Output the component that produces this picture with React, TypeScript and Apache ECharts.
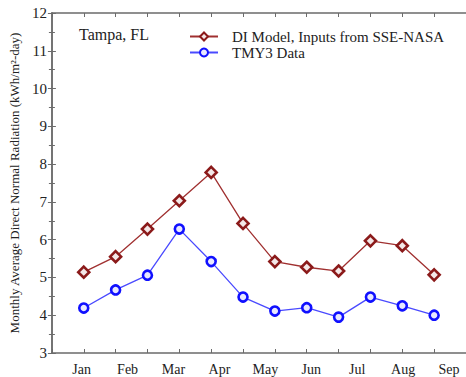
import React, { useEffect, useRef } from "react";
import * as echarts from "echarts";

const monthLabels = ["Jan", "Feb", "Mar", "Apr", "May", "Jun", "Jul", "Aug", "Sep"];
const pointIndex = [1, 2, 3, 4, 5, 6, 7, 8, 9, 10, 11, 12];
const diModel = [5.14, 5.55, 6.28, 7.03, 7.78, 6.43, 5.42, 5.27, 5.17, 5.97, 5.84, 5.07];
const tmy3 = [4.19, 4.67, 5.06, 6.28, 5.42, 4.48, 4.11, 4.2, 3.95, 4.48, 4.25, 4.0];

const FONT = "Liberation Serif";
const AXIS = "#6b6b6b";
const RED = "#8b1a1a";
const BLUE = "#1010ff";

export default function App() {
  const ref = useRef<HTMLDivElement>(null);
  useEffect(() => {
    document.body.style.margin = "0";
    const chart = echarts.init(ref.current!, null, { renderer: "svg" });
    const gridPos = { left: 49, top: 13, right: -1, bottom: 24 };
    chart.setOption({
      animation: false,
      backgroundColor: "#ffffff",
      title: {
        text: "Tampa, FL",
        left: 74,
        top: 21,
        textStyle: { fontFamily: FONT, fontSize: 16, fontWeight: "normal", color: "#222" },
      },
      legend: {
        left: 184,
        top: 24,
        orient: "vertical",
        itemWidth: 28,
        itemHeight: 10,
        itemGap: 1,
        textStyle: { fontFamily: FONT, fontSize: 15, color: "#222", padding: [0, 0, 0, 9] },
        data: ["DI Model, Inputs from SSE-NASA", "TMY3 Data"],
      },
      grid: [
        { ...gridPos },
        { left: 81.7, right: 17, top: 13, bottom: 24 },
      ],
      xAxis: [
        {
          type: "value",
          gridIndex: 0,
          min: 0,
          max: 13,
          interval: 1,
          position: "bottom",
          axisLine: { lineStyle: { color: AXIS, width: 1.5 } },
          axisTick: { inside: true, length: 4, lineStyle: { color: AXIS } },
          axisLabel: { show: false },
          splitLine: { show: false },
        },
        {
          type: "value",
          gridIndex: 0,
          min: 0,
          max: 13,
          interval: 1,
          position: "top",
          axisLine: { lineStyle: { color: AXIS, width: 1.5 } },
          axisTick: { inside: true, length: 4, lineStyle: { color: AXIS } },
          axisLabel: { show: false },
          splitLine: { show: false },
        },
        {
          type: "category",
          gridIndex: 1,
          data: monthLabels,
          boundaryGap: false,
          position: "bottom",
          axisLine: { show: false },
          axisTick: { show: false },
          axisLabel: { fontFamily: FONT, fontSize: 14, color: "#222", margin: 9 },
          splitLine: { show: false },
        },
      ],
      yAxis: [
        {
          type: "value",
          gridIndex: 0,
          min: 3,
          max: 12,
          interval: 1,
          position: "left",
          name: "Monthly Average Direct Normal Radiation (kWh/m²-day)",
          nameLocation: "middle",
          nameGap: 30,
          nameTextStyle: { fontFamily: FONT, fontSize: 13, color: "#222" },
          axisLine: { lineStyle: { color: AXIS, width: 1.5 } },
          axisTick: { inside: true, length: 4, lineStyle: { color: AXIS } },
          minorTick: { show: true, splitNumber: 2, length: 3, lineStyle: { color: AXIS } },
          axisLabel: { fontFamily: FONT, fontSize: 15, color: "#222", margin: 5 },
          splitLine: { show: false },
        },
        {
          type: "value",
          gridIndex: 0,
          min: 3,
          max: 12,
          interval: 1,
          position: "right",
          axisLine: { lineStyle: { color: AXIS, width: 1.5 } },
          axisTick: { inside: true, length: 4, lineStyle: { color: AXIS } },
          minorTick: { show: true, splitNumber: 2, length: 3, lineStyle: { color: AXIS } },
          axisLabel: { show: false },
          splitLine: { show: false },
        },
        {
          type: "value",
          gridIndex: 1,
          show: false,
        },
      ],
      series: [
        {
          name: "DI Model, Inputs from SSE-NASA",
          type: "line",
          xAxisIndex: 0,
          yAxisIndex: 0,
          data: pointIndex.map((x, i) => [x, diModel[i]]),
          symbol: "diamond",
          symbolSize: 11,
          lineStyle: { color: "#a03030", width: 1.3 },
          itemStyle: { color: "#f4e8e8", borderColor: RED, borderWidth: 2.6 },
          color: RED,
        },
        {
          name: "TMY3 Data",
          type: "line",
          xAxisIndex: 0,
          yAxisIndex: 0,
          data: pointIndex.map((x, i) => [x, tmy3[i]]),
          symbol: "circle",
          symbolSize: 9,
          lineStyle: { color: "#4a4aff", width: 1.3 },
          itemStyle: { color: "#e8e8ff", borderColor: BLUE, borderWidth: 2.6 },
          color: BLUE,
        },
      ],
    });
    return () => chart.dispose();
  }, []);
  return <div ref={ref} style={{ width: 466, height: 377 }} />;
}
